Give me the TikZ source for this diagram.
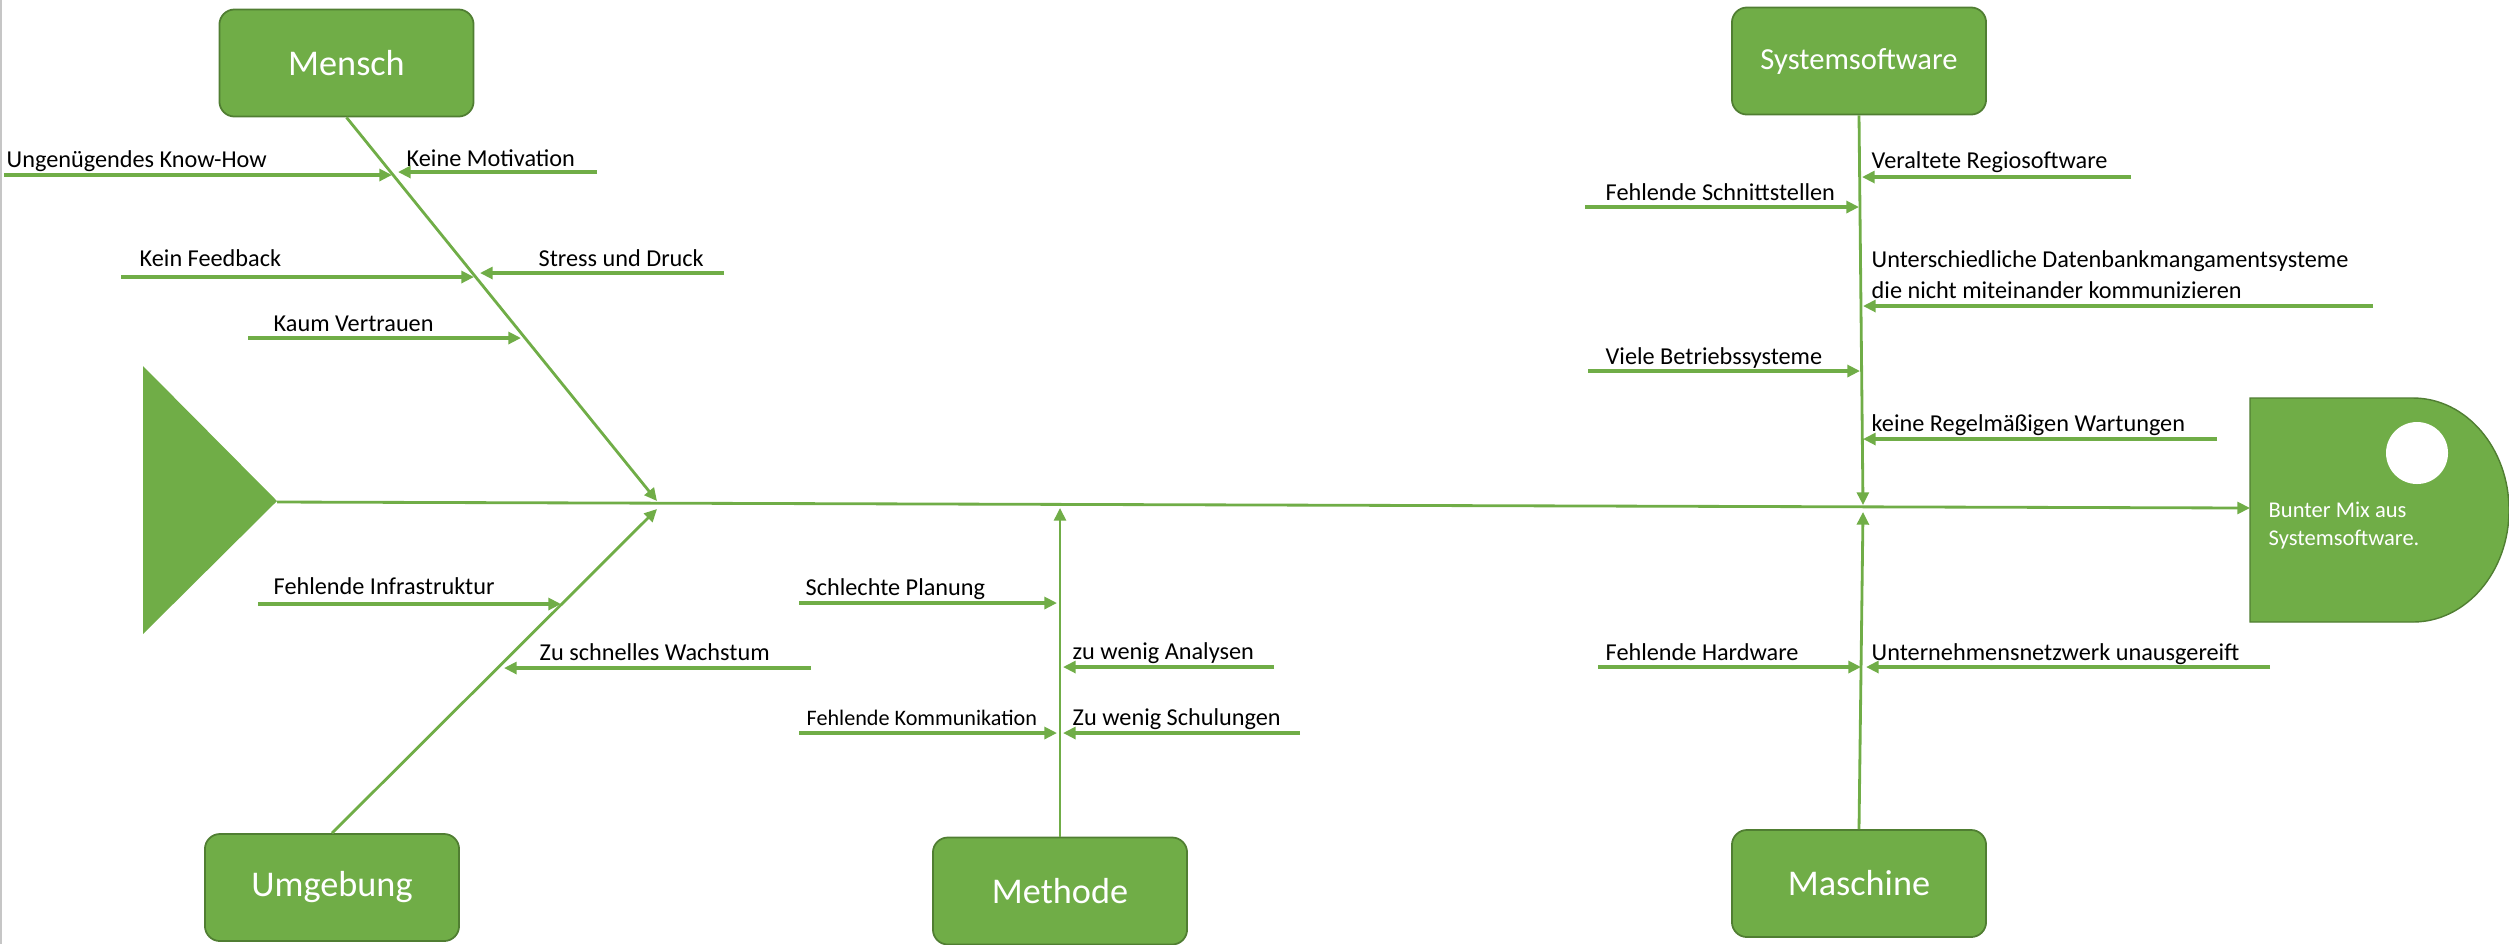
\documentclass[tikz,border=0pt]{standalone}
\usepackage{fontspec}
\setmainfont{Carlito}
\usetikzlibrary{arrows.meta}

\definecolor{fishgreen}{HTML}{70AD47}
\definecolor{fishedge}{HTML}{507E32}

\tikzset{
	catbox/.style={draw=fishedge, line width=0.5pt, fill=fishgreen,
		rounded corners=0.15cm, text=white,
		font=\fontsize{10.3}{12}\selectfont,
		minimum width=2.54cm, minimum height=1.07cm},
	bone/.style={draw=fishgreen, line width=0.8pt,
		-{Triangle[length=3.6pt,width=3.4pt]}},
	cause/.style={bone, line width=0.9pt},
	lbl/.style={font=\fontsize{6.9}{8.8}\selectfont, inner sep=0pt,
		anchor=base west, align=left}
}

\begin{document}
\begin{tikzpicture}[x=0.01cm, y=-0.01cm]
		\useasboundingbox (0,0) rectangle (2509,944);
		\fill[gray!45] (0,0) rectangle (2,944);
		
		%Fish tail
		\fill[fishgreen] (143,366) -- (277,501) -- (143,634) -- cycle;
		\coordinate (tail) at (277,502);
		
		%Fish head
		\filldraw[fill=fishgreen, draw=fishedge, line width=0.4pt]
			(2250,398) -- (2413,398)
			arc[start angle=-90, end angle=90, x radius=96, y radius=112]
			-- (2250,622) -- cycle;
		\fill[white] (2417,453) circle[radius=31];
		% base of a two-line node = baseline of its last line
		\node[lbl, text=white, font=\fontsize{6.4}{7.9}\selectfont] (effekt) at (2268,545)
			{Bunter Mix aus\\Systemsoftware.};
		\coordinate (headw) at (2250,508);
		
		%Category blocks
		\node[catbox] (mensch) at (346.5,63){Mensch};
		\node[catbox, font=\fontsize{8.7}{10}\selectfont] (syssw) at (1859,61){Systemsoftware};
		\node[catbox] (umgebung) at (332,887.5){Umgebung};
		\node[catbox] (methode) at (1060,891){Methode};
		\node[catbox] (maschine) at (1859,883.5){Maschine};
		
		%Spine and bones
		\coordinate (jm) at (657,501);
		\coordinate (ju) at (657,509);
		\coordinate (jme) at (1060,508);
		\coordinate (js) at (1863,505);
		\coordinate (jma) at (1863,512);
		\draw[bone] (tail) -- (headw);
		\draw[bone] (mensch.south) -- (jm);
		\draw[bone] (umgebung.north) -- (ju);
		\draw[bone] (methode.north) -- (jme);
		\draw[bone] (syssw.south) -- (js);
		\draw[bone] (maschine.north) -- (jma);
		
		%Mensch causes
		\coordinate (knowhow) at (4,175);
		\coordinate (knowhowt) at (392,175);
		\draw[cause] (knowhow) -- (knowhowt);
		\node[lbl] (knowhowlbl) at (6,167){Ungenügendes Know-How};
		
		\coordinate (motivation) at (597,172);
		\coordinate (motivationt) at (398,172);
		\draw[cause] (motivation) -- (motivationt);
		\node[lbl] (motivationlbl) at (406,166){Keine Motivation};
		
		\coordinate (feedback) at (121,277);
		\coordinate (feedbackt) at (474,277);
		\draw[cause] (feedback) -- (feedbackt);
		\node[lbl] (feedbacklbl) at (139,266){Kein Feedback};
		
		\coordinate (stress) at (724,273);
		\coordinate (stresst) at (480,273);
		\draw[cause] (stress) -- (stresst);
		\node[lbl] (stresslbl) at (538,266){Stress und Druck};
		
		\coordinate (vertrauen) at (248,338);
		\coordinate (vertrauent) at (521,338);
		\draw[cause] (vertrauen) -- (vertrauent);
		\node[lbl] (vertrauenlbl) at (273,331){Kaum Vertrauen};
		
		%Umgebung causes
		\coordinate (infra) at (258,604);
		\coordinate (infrat) at (561,604);
		\draw[cause] (infra) -- (infrat);
		\node[lbl] (infralbl) at (273,594){Fehlende Infrastruktur};
		
		\coordinate (wachstum) at (811,668);
		\coordinate (wachstumt) at (504,668);
		\draw[cause] (wachstum) -- (wachstumt);
		\node[lbl] (wachstumlbl) at (539,660){Zu schnelles Wachstum};
		
		%Methode causes
		\coordinate (planung) at (799,603);
		\coordinate (planungt) at (1057,603);
		\draw[cause] (planung) -- (planungt);
		\node[lbl] (planunglbl) at (805,595){Schlechte Planung};
		
		\coordinate (analysen) at (1274,667);
		\coordinate (analysent) at (1063,667);
		\draw[cause] (analysen) -- (analysent);
		\node[lbl] (analysenlbl) at (1072,659){zu wenig Analysen};
		
		\coordinate (kommunikation) at (799,733);
		\coordinate (kommunikationt) at (1057,733);
		\draw[cause] (kommunikation) -- (kommunikationt);
		\node[lbl, font=\fontsize{6.3}{8}\selectfont] (kommunikationlbl) at (806,725){Fehlende Kommunikation};
		
		\coordinate (schulungen) at (1300,733);
		\coordinate (schulungent) at (1063,733);
		\draw[cause] (schulungen) -- (schulungent);
		\node[lbl] (schulungenlbl) at (1072,725){Zu wenig Schulungen};
		
		%Systemsoftware causes
		\coordinate (regio) at (2131,177);
		\coordinate (regiot) at (1862,177);
		\draw[cause] (regio) -- (regiot);
		\node[lbl] (regiolbl) at (1871,168){Veraltete Regiosoftware};
		
		\coordinate (schnitt) at (1585,207);
		\coordinate (schnittt) at (1859,207);
		\draw[cause] (schnitt) -- (schnittt);
		\node[lbl] (schnittlbl) at (1605,200){Fehlende Schnittstellen};
		
		\coordinate (dbms) at (2373,306);
		\coordinate (dbmst) at (1863,306);
		\draw[cause] (dbms) -- (dbmst);
		\node[lbl] (dbmslbl) at (1871,298){Unterschiedliche Datenbankmangamentsysteme\\die nicht miteinander kommunizieren};
		
		\coordinate (betrieb) at (1588,371);
		\coordinate (betriebt) at (1860,371);
		\draw[cause] (betrieb) -- (betriebt);
		\node[lbl] (betrieblbl) at (1605,364){Viele Betriebssysteme};
		
		\coordinate (wartung) at (2217,439);
		\coordinate (wartungt) at (1863,439);
		\draw[cause] (wartung) -- (wartungt);
		\node[lbl] (wartunglbl) at (1871,431){keine Regelmäßigen Wartungen};
		
		%Maschine causes
		\coordinate (hardware) at (1598,667);
		\coordinate (hardwaret) at (1861,667);
		\draw[cause] (hardware) -- (hardwaret);
		\node[lbl] (hardwarelbl) at (1605,660){Fehlende Hardware};
		
		\coordinate (netzwerk) at (2270,667);
		\coordinate (netzwerkt) at (1866,667);
		\draw[cause] (netzwerk) -- (netzwerkt);
		\node[lbl] (netzwerklbl) at (1871,660){Unternehmensnetzwerk unausgereift};
	\end{tikzpicture}
\end{document}
